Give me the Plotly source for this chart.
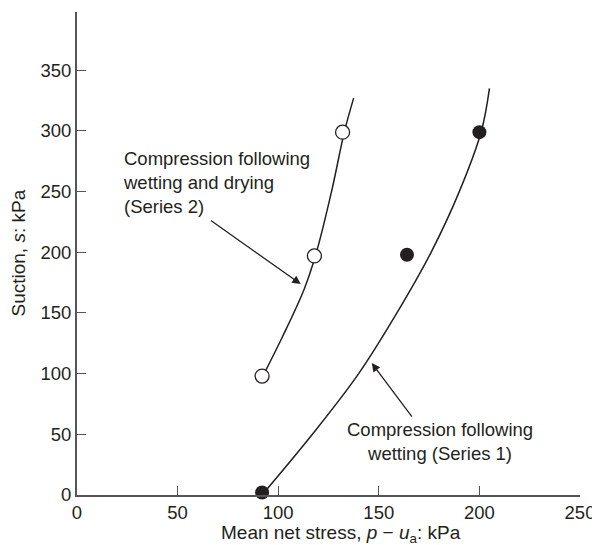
import plotly.graph_objects as go

# Measured points
s1_x = [92, 164, 200]
s1_y = [2, 198, 299]
s2_x = [92, 118, 132]
s2_y = [98, 197, 299]

# Fitted trend curves
c1_x = [92, 117, 140, 159, 176, 190, 201, 205]
c1_y = [0, 50, 100, 150, 200, 250, 300, 335]
c2_x = [93, 102, 113, 119, 126.5, 133, 137.5]
c2_y = [100, 130, 170, 200, 250, 300, 327]

x_ticks = [0, 50, 100, 150, 200, 250]
y_ticks = [0, 50, 100, 150, 200, 250, 300, 350]

INK = "#231f20"
AX = "#555555"
FONT = "Liberation Sans, Arial, sans-serif"
FS = 18.5
FT = 19

fig = go.Figure()
fig.add_trace(go.Scatter(x=c1_x, y=c1_y, mode="lines", line=dict(color=INK, width=1.5, shape="spline"), hoverinfo="skip"))
fig.add_trace(go.Scatter(x=c2_x, y=c2_y, mode="lines", line=dict(color=INK, width=1.5, shape="spline"), hoverinfo="skip"))
fig.add_trace(go.Scatter(x=s1_x, y=s1_y, mode="markers", marker=dict(size=14, color=INK, line=dict(width=0)), cliponaxis=False))
fig.add_trace(go.Scatter(x=s2_x, y=s2_y, mode="markers", marker=dict(size=14, color="white", line=dict(color=INK, width=1.3)), cliponaxis=False))

fig.add_annotation(x=111.2, y=173.8, ax=65.8, ay=227, xref="x", yref="y", axref="x", ayref="y",
                   text="", showarrow=True, arrowhead=2, arrowsize=1.3, arrowwidth=1.3, arrowcolor=INK)
fig.add_annotation(x=146.5, y=108.7, ax=167, ay=63.4, xref="x", yref="y", axref="x", ayref="y",
                   text="", showarrow=True, arrowhead=2, arrowsize=1.3, arrowwidth=1.3, arrowcolor=INK)

fig.add_annotation(x=21.7, y=257.9, xref="x", yref="y", xanchor="left", yanchor="middle", align="left",
                   text="Compression following<br>wetting and drying<br>(Series 2)", showarrow=False,
                   font=dict(family=FONT, size=FS, color=INK))
fig.add_annotation(x=180.2, y=43.7, xref="x", yref="y", xanchor="center", yanchor="middle", align="center",
                   text="Compression following<br>wetting (Series 1)", showarrow=False,
                   font=dict(family=FONT, size=FS, color=INK))

# axis titles
fig.add_annotation(x=0, y=0.5, xref="paper", yref="paper", xshift=-59, xanchor="center", yanchor="middle",
                   textangle=-90, text="Suction, <i>s</i>: kPa", showarrow=False,
                   font=dict(family=FONT, size=FT, color=INK))
fig.add_annotation(x=0.5, y=0, xref="paper", yref="paper", yshift=-39, xshift=12, xanchor="center", yanchor="middle",
                   text="Mean net stress, <i>p</i> − <i>u</i><sub>a</sub>: kPa", showarrow=False,
                   font=dict(family=FONT, size=FT, color=INK))

# The page body has an 8px margin, so the figure is shifted back by 8px
fig.update_layout(
    width=592, height=537,
    margin=dict(l=69, r=20, t=4, b=50),
    paper_bgcolor="white", plot_bgcolor="white",
    showlegend=False,
    font=dict(family=FONT, size=FS, color=INK),
)
fig.update_xaxes(range=[0, 250], tickvals=x_ticks, ticks="inside", ticklen=9, tickwidth=1.2, tickcolor=AX,
                 showline=True, linecolor=AX, linewidth=2, showgrid=False, zeroline=False,
                 automargin=False, tickfont=dict(size=FS))
fig.update_yaxes(range=[0, 398], tickvals=y_ticks, ticks="inside", ticklen=9, tickwidth=1.2, tickcolor=AX,
                 showline=True, linecolor=AX, linewidth=2, showgrid=False, zeroline=False,
                 automargin=False, tickfont=dict(size=FS))

fig.write_html("out.html")
